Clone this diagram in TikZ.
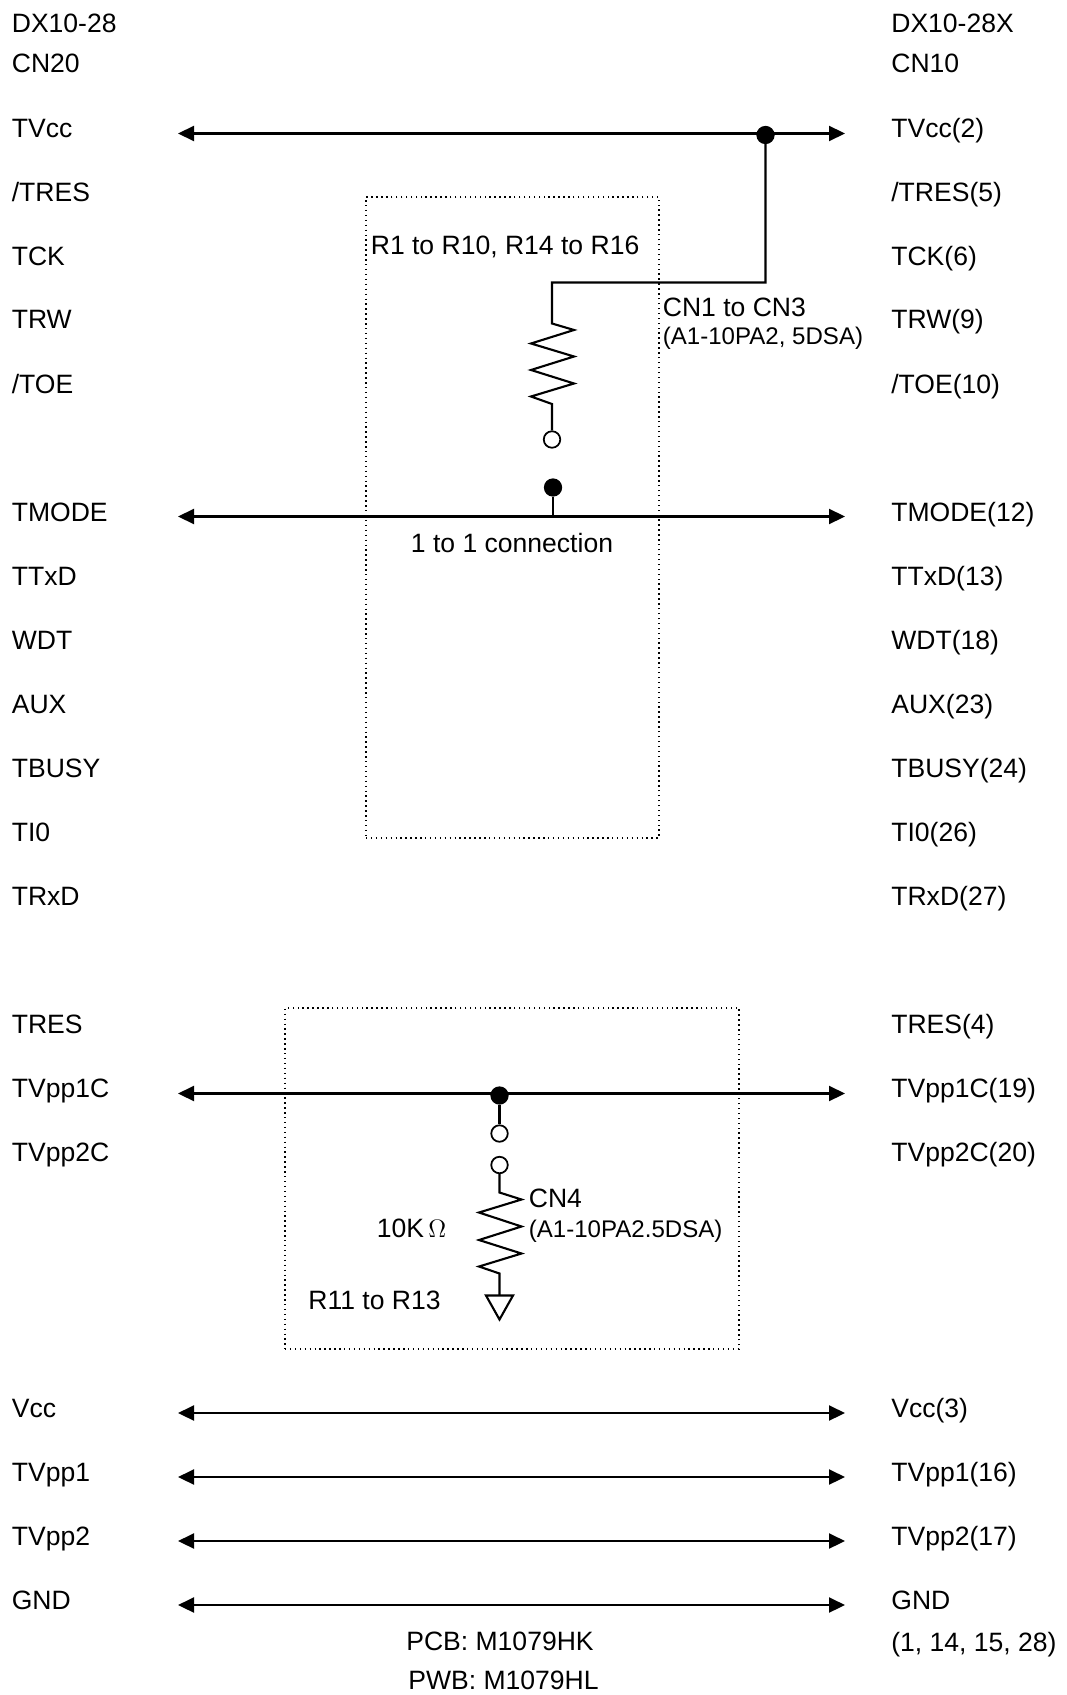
\documentclass[tikz,border=0pt]{standalone}
\usepackage{fontspec}
\setmainfont{Liberation Sans}
\usetikzlibrary{arrows.meta}
\tikzstyle{lbl}=[anchor=base west, inner sep=0pt, font=\fontsize{15.1}{18}\selectfont]
\tikzstyle{smalllbl}=[lbl, font=\fontsize{13.7}{16}\selectfont]
\tikzstyle{midlbl}=[lbl, anchor=base]
\tikzstyle{wire}=[line width=1.2pt]
\tikzstyle{bus}=[wire, {Triangle[length=0.32cm, width=0.3cm]}-{Triangle[length=0.32cm, width=0.3cm]}]
\tikzstyle{dotbox}=[draw, dotted, line width=0.8pt, inner sep=0pt]
\tikzstyle{solder}=[circle, draw, fill=black, line width=1pt, inner sep=0pt, minimum size=0.33cm]
\tikzstyle{pin}=[circle, draw, fill=white, line width=1pt, inner sep=0pt, minimum size=0.33cm]
\begin{document}
\begin{tikzpicture}
    \useasboundingbox (0, 0) rectangle (21.34, -33.9);
    % left column
    \node[lbl] (dxL) at (0.23, -0.65) {DX10-28};
    \node[lbl] (cnL) at (0.23, -1.45) {CN20};
    \node[lbl] (tvccL) at (0.23, -2.75) {TVcc};
    \node[lbl] (tresnL) at (0.23, -4.03) {/TRES};
    \node[lbl] (tckL) at (0.23, -5.31) {TCK};
    \node[lbl] (trwL) at (0.23, -6.58) {TRW};
    \node[lbl] (toeL) at (0.23, -7.87) {/TOE};
    \node[lbl] (tmodeL) at (0.23, -10.43) {TMODE};
    \node[lbl] (ttxdL) at (0.23, -11.71) {TTxD};
    \node[lbl] (wdtL) at (0.23, -12.99) {WDT};
    \node[lbl] (auxL) at (0.23, -14.27) {AUX};
    \node[lbl] (tbusyL) at (0.23, -15.55) {TBUSY};
    \node[lbl] (tizL) at (0.23, -16.83) {TI0};
    \node[lbl] (trxdL) at (0.23, -18.11) {TRxD};
    \node[lbl] (tresL) at (0.23, -20.67) {TRES};
    \node[lbl] (tvpcaL) at (0.23, -21.95) {TVpp1C};
    \node[lbl] (tvpcbL) at (0.23, -23.23) {TVpp2C};
    \node[lbl] (vccL) at (0.23, -28.35) {Vcc};
    \node[lbl] (tvpaL) at (0.23, -29.63) {TVpp1};
    \node[lbl] (tvpbL) at (0.23, -30.91) {TVpp2};
    \node[lbl] (gndL) at (0.23, -32.18) {GND};
    % right column
    \node[lbl] (dxR) at (17.82, -0.65) {DX10-28X};
    \node[lbl] (cnR) at (17.82, -1.45) {CN10};
    \node[lbl] (tvccR) at (17.82, -2.75) {TVcc(2)};
    \node[lbl] (tresnR) at (17.82, -4.03) {/TRES(5)};
    \node[lbl] (tckR) at (17.82, -5.31) {TCK(6)};
    \node[lbl] (trwR) at (17.82, -6.58) {TRW(9)};
    \node[lbl] (toeR) at (17.82, -7.87) {/TOE(10)};
    \node[lbl] (tmodeR) at (17.82, -10.43) {TMODE(12)};
    \node[lbl] (ttxdR) at (17.82, -11.71) {TTxD(13)};
    \node[lbl] (wdtR) at (17.82, -12.99) {WDT(18)};
    \node[lbl] (auxR) at (17.82, -14.27) {AUX(23)};
    \node[lbl] (tbusyR) at (17.82, -15.55) {TBUSY(24)};
    \node[lbl] (tizR) at (17.82, -16.83) {TI0(26)};
    \node[lbl] (trxdR) at (17.82, -18.11) {TRxD(27)};
    \node[lbl] (tresR) at (17.82, -20.67) {TRES(4)};
    \node[lbl] (tvpcaR) at (17.82, -21.95) {TVpp1C(19)};
    \node[lbl] (tvpcbR) at (17.82, -23.23) {TVpp2C(20)};
    \node[lbl] (vccR) at (17.82, -28.35) {Vcc(3)};
    \node[lbl] (tvpaR) at (17.82, -29.63) {TVpp1(16)};
    \node[lbl] (tvpbR) at (17.82, -30.91) {TVpp2(17)};
    \node[lbl] (gndR) at (17.82, -32.18) {GND};
    \node[lbl] (gndpins) at (17.82, -33.03) {(1, 14, 15, 28)};
    % dotted boxes
    \node[dotbox, minimum width=5.86cm, minimum height=12.82cm] (boxA) at (10.25, -10.35) {};
    \node[dotbox, minimum width=9.08cm, minimum height=6.82cm] (boxB) at (10.24, -23.57) {};
    % bus lines
    \coordinate (tvccA) at (3.56, -2.67);
    \coordinate (tvccB) at (16.9, -2.67);
    \coordinate (tmodeA) at (3.56, -10.33);
    \coordinate (tmodeB) at (16.9, -10.33);
    \coordinate (tvpcA) at (3.56, -21.87);
    \coordinate (tvpcB) at (16.9, -21.87);
    \coordinate (vccA) at (3.56, -28.26);
    \coordinate (vccB) at (16.9, -28.26);
    \coordinate (tvpaA) at (3.56, -29.54);
    \coordinate (tvpaB) at (16.9, -29.54);
    \coordinate (tvpbA) at (3.56, -30.82);
    \coordinate (tvpbB) at (16.9, -30.82);
    \coordinate (gndA) at (3.56, -32.1);
    \coordinate (gndB) at (16.9, -32.1);
    \draw[bus] (tvccA) -- (tvccB);
    \draw[bus] (tmodeA) -- (tmodeB);
    \draw[bus] (tvpcA) -- (tvpcB);
    \draw[bus] (vccA) -- (vccB);
    \draw[bus] (tvpaA) -- (tvpaB);
    \draw[bus] (tvpbA) -- (tvpbB);
    \draw[bus] (gndA) -- (gndB);
    % upper pull-up
    \node[solder] (dotA) at (15.31, -2.7) {};
    \node[pin] (pinA) at (11.04, -8.79) {};
    \node[solder] (dotB) at (11.06, -9.75) {};
    \coordinate (bendA) at (11.04, -5.65);
    \draw[wire] (dotA) |- (bendA) -- (11.04, -6.47) -- (11.48, -6.6) -- (10.62, -6.87) -- (11.48, -7.13)
        -- (10.62, -7.4) -- (11.48, -7.67) -- (10.62, -7.93) -- (11.04, -8.08) -- (pinA);
    \draw[wire] (dotB) -- (dotB |- tmodeA);
    % lower pull-down
    \node[solder] (dotC) at (9.99, -21.91) {};
    \node[pin] (pinB) at (9.99, -22.67) {};
    \node[pin] (pinC) at (9.99, -23.3) {};
    \coordinate (gndTop) at (9.99, -25.91);
    \draw[wire] (dotC) -- (pinB);
    \draw[wire] (pinC) -- (9.99, -23.85) -- (10.43, -23.99) -- (9.58, -24.25) -- (10.43, -24.53) -- (9.58, -24.8)
        -- (10.43, -25.07) -- (9.58, -25.33) -- (9.99, -25.47) -- (gndTop);
    \draw[wire] (gndTop) +(-0.27, 0) -- +(0.27, 0) -- +(0, -0.48) -- cycle;
    % texts in the boxes
    \node[lbl] (rangeA) at (7.41, -5.1) {R1 to R10, R14 to R16};
    \node[lbl] (cnA) at (13.25, -6.34) {CN1 to CN3};
    \node[smalllbl] (partA) at (13.25, -6.9) {(A1-10PA2, 5DSA)};
    \node[midlbl] (direct) at (10.24, -11.05) {1 to 1 connection};
    \node[lbl] (cnB) at (10.57, -24.15) {CN4};
    \node[smalllbl] (partB) at (10.57, -24.75) {(A1-10PA2.5DSA)};
    \node[lbl] (ohm) at (7.53, -24.74) {10K\,$\Omega$};
    \node[lbl] (rangeB) at (6.16, -26.18) {R11 to R13};
    % board names
    \node[midlbl] (pcb) at (10.0, -33.0) {PCB: M1079HK};
    \node[midlbl] (pwb) at (10.07, -33.78) {PWB: M1079HL};
\end{tikzpicture}
\end{document}
